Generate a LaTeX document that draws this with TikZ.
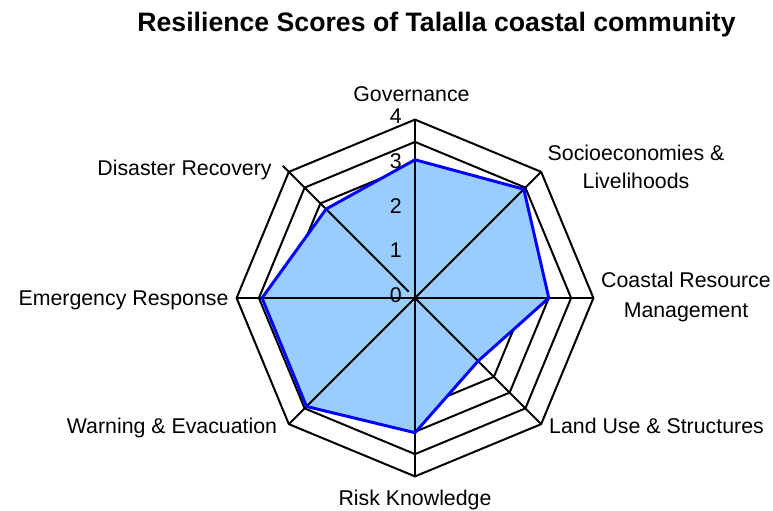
\documentclass[tikz,border=0pt]{standalone}
\usepackage{fontspec}
\setmainfont{Liberation Sans}
\definecolor{areafill}{HTML}{99CCFF}
\definecolor{arealine}{HTML}{0000FF}
\begin{document}
\begin{tikzpicture}[x=0.75pt,y=-0.75pt,
  lbl/.style={font=\fontsize{16}{19}\selectfont, inner sep=0pt, anchor=base},
  ticklbl/.style={font=\fontsize{16}{19}\selectfont, inner sep=0pt, anchor=east},
  titlelbl/.style={font=\bfseries\fontsize{20}{24}\selectfont, inner sep=0pt, anchor=base},
  gridline/.style={draw=black, line width=1.5pt, line join=miter},
  spoke/.style={draw=black, line width=1.5pt},
  seriesfill/.style={fill=areafill, draw=none},
  seriesline/.style={draw=arealine, line width=2.2pt, line join=miter}]
\useasboundingbox (0,0) rectangle (773,510);
\fill[white] (0,0) rectangle (773,510);

\node[titlelbl] (title) at (436.5,31.7) {Resilience Scores of Talalla coastal community};

\begin{scope}[shift={(415,298)}, x=0.75pt, y=0.75pt]
  \coordinate (O) at (0,0);
  % grid octagons every 0.5
  \foreach \l in {0.5,1,...,4} {
    \draw[gridline] (0:{\l*44.6}) \foreach \a in {45,90,...,315} { -- (\a:{\l*44.6}) } -- cycle;
  }
  % axis end points
  \coordinate (aGov) at (90:178.4);
  \coordinate (aSoc) at (45:178.4);
  \coordinate (aCoa) at (0:178.4);
  \coordinate (aLan) at (-45:178.4);
  \coordinate (aRis) at (-90:178.4);
  \coordinate (aWar) at (-135:178.4);
  \coordinate (aEme) at (180:178.4);
  \coordinate (aDisOut) at (135:187);
  \coordinate (aDisIn) at (135:9);
  % data points
  \coordinate (vGov) at (90:{3.1*44.6});
  \coordinate (vSoc) at (45:{3.45*44.6});
  \coordinate (vCoa) at (0:{3.0*44.6});
  \coordinate (vLan) at (-45:{2.0*44.6});
  \coordinate (vRis) at (-90:{3.02*44.6});
  \coordinate (vWar) at (-135:{3.44*44.6});
  \coordinate (vEme) at (180:{3.43*44.6});
  \coordinate (vDis) at (135:{2.82*44.6});
  % series fill
  \path[seriesfill] (vGov) -- (vSoc) -- (vCoa) -- (vLan) -- (vRis) -- (vWar) -- (vEme) -- (vDis) -- cycle;
  % spokes
  \draw[spoke] (O) -- (aGov);
  \draw[spoke] (O) -- (aSoc);
  \draw[spoke] (O) -- (aCoa);
  \draw[spoke] (O) -- (aLan);
  \draw[spoke] (O) -- (aRis);
  \draw[spoke] (O) -- (aWar);
  \draw[spoke] (O) -- (aEme);
  \draw[spoke] (aDisIn) -- (aDisOut);
  % series line
  \draw[seriesline] (vGov) -- (vSoc) -- (vCoa) -- (vLan) -- (vRis) -- (vWar) -- (vEme) -- (vDis) -- cycle;
\end{scope}

% tick labels
\node[ticklbl] (t0) at (402,294.8) {0};
\node[ticklbl] (t1) at (402,250.6) {1};
\node[ticklbl] (t2) at (402,206.0) {2};
\node[ticklbl] (t3) at (402,161.3) {3};
\node[ticklbl] (t4) at (402,116.2) {4};

% category labels
\node[lbl] (lGov) at (411.5,101) {Governance};
\node[lbl] (lSocA) at (636,160) {Socioeconomies \&};
\node[lbl] (lSocB) at (636,188.5) {Livelihoods};
\node[lbl] (lCoaA) at (686,287.5) {Coastal Resource};
\node[lbl] (lCoaB) at (686,317) {Management};
\node[lbl] (lLan) at (656.5,433) {Land Use \& Structures};
\node[lbl] (lRis) at (415,505) {Risk Knowledge};
\node[lbl] (lWar) at (172,433) {Warning \& Evacuation};
\node[lbl] (lEme) at (123.5,305) {Emergency Response};
\node[lbl] (lDis) at (184.5,175) {Disaster Recovery};
\end{tikzpicture}
\end{document}
